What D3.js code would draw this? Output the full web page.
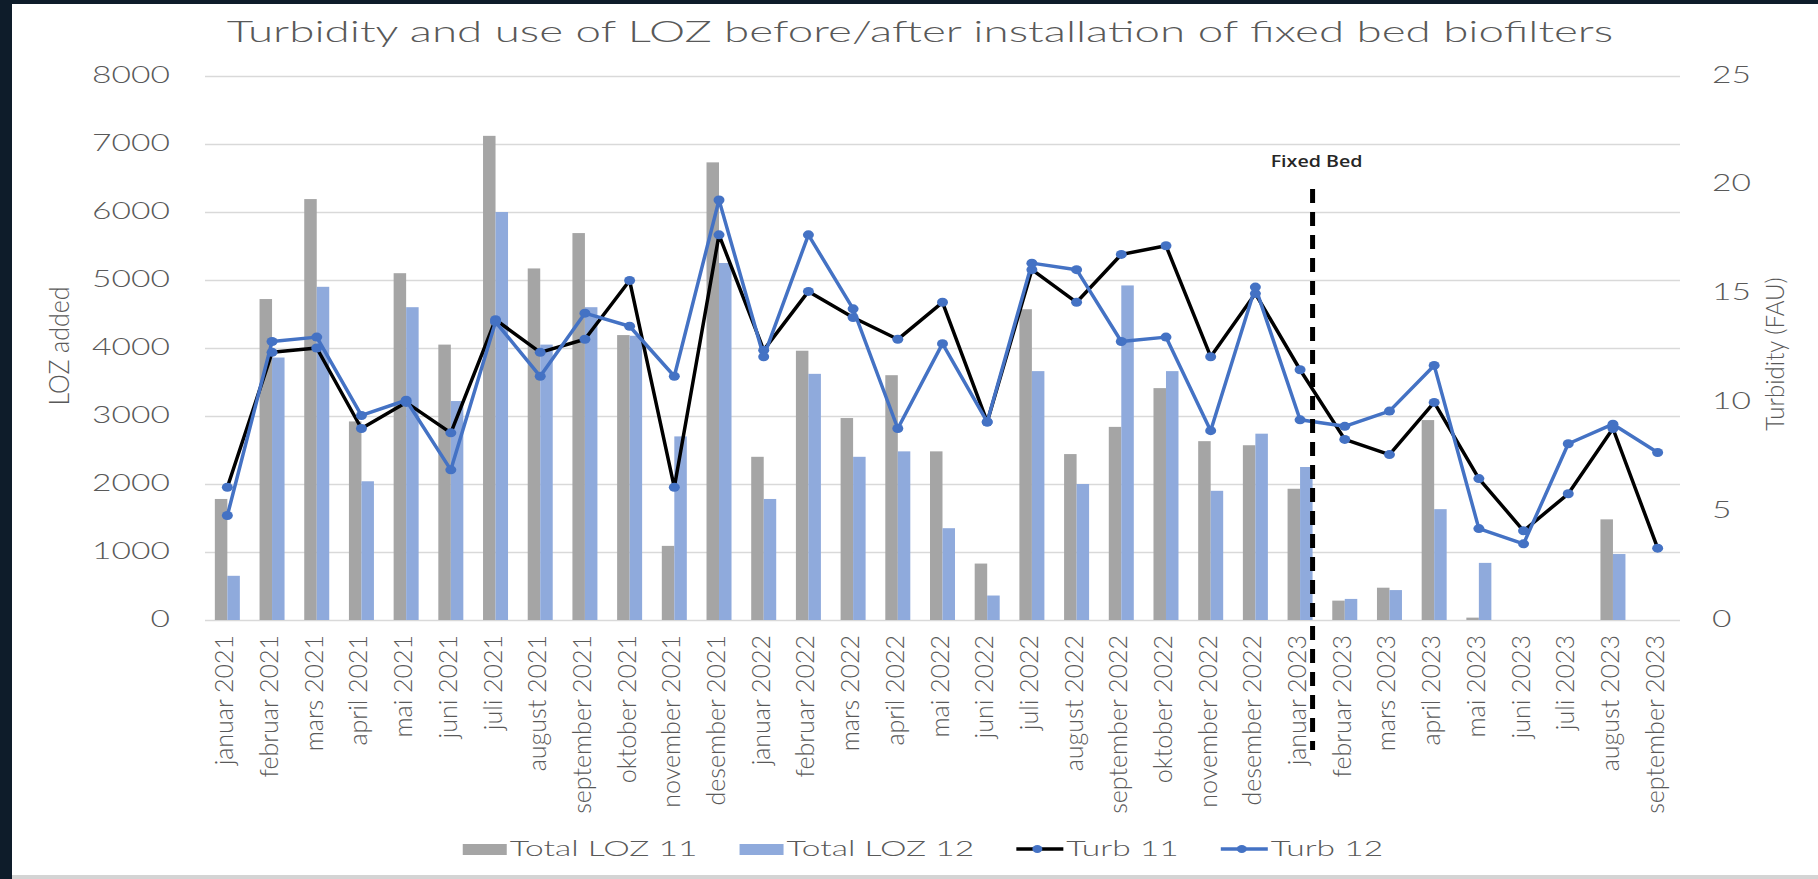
<!DOCTYPE html>
<html>
<head>
<meta charset="utf-8">
<script src="https://cdn.jsdelivr.net/npm/d3@7"></script>
<style>
  html, body { margin: 0; padding: 0; background: #0e1c2a; }
  #chart { width: 1818px; height: 879px; }
  text { font-family: Lato, "Open Sans", sans-serif; font-weight: 300; fill: #595959; }
</style>
</head>
<body>
<div id="chart"></div>
<script>
const months = [
  "januar 2021", "februar 2021", "mars 2021", "april 2021", "mai 2021", "juni 2021",
  "juli 2021", "august 2021", "september 2021", "oktober 2021", "november 2021", "desember 2021",
  "januar 2022", "februar 2022", "mars 2022", "april 2022", "mai 2022", "juni 2022",
  "juli 2022", "august 2022", "september 2022", "oktober 2022", "november 2022", "desember 2022",
  "januar 2023", "februar 2023", "mars 2023", "april 2023", "mai 2023", "juni 2023",
  "juli 2023", "august 2023", "september 2023"
];

// LOZ added (left axis)
const loz11 = [1780, 4720, 6190, 2920, 5100, 4050, 7120, 5170, 5690, 4190, 1090, 6730,
  2400, 3960, 2970, 3600, 2480, 830, 4570, 2440, 2840, 3410, 2630, 2570,
  1930, 285, 475, 2940, 35, 0, 0, 1480, 0];
const loz12 = [650, 3860, 4900, 2040, 4600, 3220, 6000, 4050, 4600, 4180, 2700, 5250,
  1780, 3620, 2400, 2480, 1350, 360, 3660, 2000, 4920, 3660, 1900, 2740,
  2250, 310, 440, 1630, 840, 0, 0, 970, 0];

// Turbidity FAU (right axis)
const turb11 = [6.1, 12.3, 12.5, 8.8, 10.0, 8.6, 13.8, 12.3, 12.9, 15.6, 6.1, 17.7,
  12.4, 15.1, 13.9, 12.9, 14.6, 9.1, 16.1, 14.6, 16.8, 17.2, 12.1, 15.0,
  11.5, 8.3, 7.6, 10.0, 6.5, 4.1, 5.8, 8.8, 3.3];
const turb12 = [4.8, 12.8, 13.0, 9.4, 10.1, 6.9, 13.7, 11.2, 14.1, 13.5, 11.2, 19.3,
  12.1, 17.7, 14.3, 8.8, 12.7, 9.1, 16.4, 16.1, 12.8, 13.0, 8.7, 15.3,
  9.2, 8.9, 9.6, 11.7, 4.2, 3.5, 8.1, 9.0, 7.7];

const lozTicks = [0, 1000, 2000, 3000, 4000, 5000, 6000, 7000, 8000];
const turbTicks = [0, 5, 10, 15, 20, 25];
const fixedBedMonth = "januar 2023";

const W = 1818, H = 879;
const margin = { left: 205, right: 1680, top: 76, bottom: 620 };
const grey = "#a5a5a5", lightBlue = "#8faadc", blue = "#4472c4";
const textStretch = 1.46;

const svg = d3.select("#chart").append("svg").attr("width", W).attr("height", H);

// frame
svg.append("rect").attr("width", W).attr("height", H).attr("fill", "#0e1c2a");
svg.append("rect").attr("x", 12).attr("y", 4).attr("width", W - 12).attr("height", H - 4).attr("fill", "#d4d4d4");
svg.append("rect").attr("x", 12).attr("y", 4).attr("width", W - 12).attr("height", H - 8).attr("fill", "#ffffff");

const x0 = d3.scaleBand().domain(months).range([margin.left, margin.right]).padding(0);
const bw = x0.bandwidth();
const groupW = 25;
const x1 = d3.scaleBand().domain(["loz11", "loz12"]).range([-groupW / 2, groupW / 2]);
const yL = d3.scaleLinear().domain([0, 8000]).range([margin.bottom, margin.top]);
const yR = d3.scaleLinear().domain([0, 25]).range([margin.bottom, margin.top]);
const cx = m => x0(m) + bw / 2;

// title
const title = svg.append("text")
  .attr("text-anchor", "middle")
  .style("font-size", "29px")
  .text("Turbidity and use of LOZ before/after installation of fixed bed biofilters");
const tLen = title.node().getComputedTextLength();
title.attr("transform", `translate(920,42) scale(${1387 / tLen},1)`);

// left axis + gridlines
const gL = svg.append("g").attr("transform", `translate(${margin.left},0)`)
  .call(d3.axisLeft(yL).tickValues(lozTicks).tickSize(-(margin.right - margin.left)).tickFormat(d3.format("d")));
gL.select(".domain").remove();
gL.selectAll(".tick line").attr("stroke", "#d9d9d9").attr("stroke-width", 1.5);
gL.selectAll(".tick text")
  .attr("x", 0).attr("dy", null).attr("y", 6)
  .attr("transform", `translate(-35,0) scale(${textStretch},1)`)
  .style("font-size", "23px");

// right axis
const gR = svg.append("g").attr("transform", `translate(${margin.right},0)`)
  .call(d3.axisRight(yR).tickValues(turbTicks).tickSize(0));
gR.select(".domain").remove();
gR.selectAll(".tick text")
  .attr("x", 0).attr("dy", null).attr("y", 6)
  .attr("transform", `translate(32,0) scale(${textStretch},1)`)
  .style("font-size", "23px");

// bottom axis (category labels)
const gB = svg.append("g").attr("transform", `translate(0,${margin.bottom})`)
  .call(d3.axisBottom(x0).tickSize(0));
gB.select(".domain").remove();
gB.selectAll(".tick text")
  .attr("x", 0).attr("y", 0).attr("dy", null)
  .attr("text-anchor", "end")
  .attr("transform", "translate(6,15) scale(1.05,1) rotate(-90)")
  .style("font-size", "25px");

// axis titles
svg.append("text")
  .attr("text-anchor", "middle")
  .attr("transform", "translate(69,346) scale(1.1,1) rotate(-90)")
  .style("font-size", "25px")
  .text("LOZ added");
svg.append("text")
  .attr("text-anchor", "middle")
  .attr("transform", "translate(1784,354) scale(1.1,1) rotate(-90)")
  .style("font-size", "24px")
  .text("Turbidity (FAU)");

// bars
const rows = months.map((m, i) => ({ m, loz11: loz11[i], loz12: loz12[i] }));
const barG = svg.append("g");
[["loz11", grey], ["loz12", lightBlue]].forEach(([key, color]) => {
  barG.selectAll(null)
    .data(rows)
    .enter()
    .append("rect")
    .attr("x", d => cx(d.m) + x1(key))
    .attr("width", x1.bandwidth())
    .attr("y", d => yL(d[key]))
    .attr("height", d => yL(0) - yL(d[key]))
    .attr("fill", color);
});

// lines
const line = d3.line().x(d => cx(d.m)).y(d => yR(d.v));
[[turb11, "#000000"], [turb12, blue]].forEach(([vals, color]) => {
  const pts = months.map((m, i) => ({ m, v: vals[i] }));
  svg.append("path")
    .datum(pts)
    .attr("d", line)
    .attr("fill", "none")
    .attr("stroke", color)
    .attr("stroke-width", 3.5)
    .attr("stroke-linejoin", "round");
  svg.append("g").selectAll("ellipse")
    .data(pts)
    .enter()
    .append("ellipse")
    .attr("cx", d => cx(d.m))
    .attr("cy", d => yR(d.v))
    .attr("rx", 5.5)
    .attr("ry", 4.5)
    .attr("fill", blue);
});

// fixed bed marker
const fbX = cx(fixedBedMonth) + groupW / 2;
svg.append("line")
  .attr("x1", fbX).attr("x2", fbX)
  .attr("y1", 189).attr("y2", 750)
  .attr("stroke", "#000")
  .attr("stroke-width", 5)
  .attr("stroke-dasharray", "14,9");
svg.append("text")
  .attr("text-anchor", "middle")
  .attr("transform", `translate(${fbX + 4},167) scale(1.19,1)`)
  .style("font-family", "'Open Sans', Lato, sans-serif")
  .style("font-weight", 600)
  .style("font-size", "16.5px")
  .style("fill", "#262626")
  .text("Fixed Bed");

// legend
const legendItems = [
  { label: "Total LOZ 11", kind: "bar", color: grey },
  { label: "Total LOZ 12", kind: "bar", color: lightBlue },
  { label: "Turb 11", kind: "line", color: "#000000" },
  { label: "Turb 12", kind: "line", color: blue }
];
const legend = svg.append("g");
let lx = 0;
const legStretch = 1.6;
legendItems.forEach(item => {
  const g = legend.append("g").attr("transform", `translate(${lx},0)`);
  let tx;
  if (item.kind === "bar") {
    g.append("rect").attr("x", 0).attr("y", -5).attr("width", 44).attr("height", 11).attr("fill", item.color);
    tx = 47;
  } else {
    g.append("line").attr("x1", 0).attr("x2", 47).attr("y1", 0).attr("y2", 0)
      .attr("stroke", item.color).attr("stroke-width", 3.5);
    g.append("ellipse").attr("cx", 21).attr("cy", 0).attr("rx", 5).attr("ry", 4).attr("fill", blue);
    tx = 50;
  }
  const t = g.append("text")
    .style("font-size", "21px")
    .text(item.label);
  const len = t.node().getComputedTextLength() * legStretch;
  t.attr("transform", `translate(${tx},7) scale(${legStretch},1)`);
  lx += tx + len + 42;
});
const legW = lx - 42;
legend.attr("transform", `translate(${923 - legW / 2},849)`);
</script>
</body>
</html>
